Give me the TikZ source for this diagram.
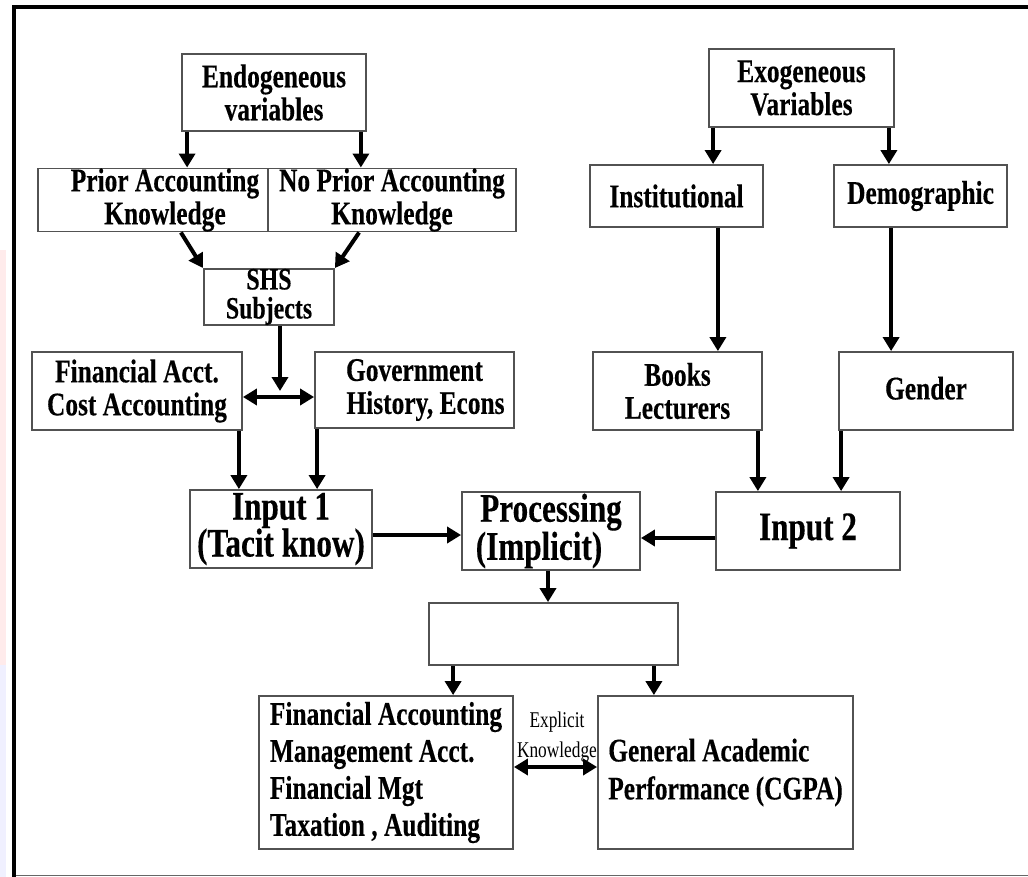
\documentclass[tikz,border=0pt]{standalone}
\usepackage{fontspec}
\setmainfont[FakeStretch=0.77, BoldFeatures={FakeBold=0.3}]{Liberation Serif}
\usetikzlibrary{arrows.meta,calc}
\tikzset{
  box/.style={draw=black!68, line width=1.8pt, inner sep=0pt, align=center,
    font=\bfseries\fontsize{33}{33}\selectfont},
  bigtext/.style={font=\bfseries\fontsize{40.5}{37}\selectfont},
  arr/.style={line width=4pt, -{Triangle[length=14pt,width=16pt]}},
  dbl/.style={line width=4pt, {Triangle[length=14pt,width=16pt]}-{Triangle[length=14pt,width=16pt]}},
}
\begin{document}
\begin{tikzpicture}[x=1pt,y=-1pt]
\useasboundingbox (0,0) rectangle (1028,877);
% faint tint along the left edge
\fill[red!8] (0,250) rectangle (6,665);
\fill[blue!6] (0,665) rectangle (6,877);
% outer frame
\draw[line width=1pt, black!60] (13,875) -- (1028,875);
\draw[line width=4pt] (13.5,877) -- (13.5,7.5) -- (1028,7.5);

% endogeneous branch
\node[box, minimum width=184pt, minimum height=77pt] (endo) at (274,92.5) {Endogeneous\\variables};
\node[box, minimum width=230pt, minimum height=62pt] (prior) at (153,200) {\hspace*{24pt}Prior Accounting\\\hspace*{24pt}Knowledge};
\node[box, minimum width=248pt, minimum height=62pt] (noprior) at (392,200) {No Prior Accounting\\Knowledge};
\node[box, minimum width=130pt, minimum height=52pt, font=\bfseries\fontsize{31}{29}\selectfont] (shs) at (269,297) {SHS\\Subjects};
\node[box, minimum width=210pt, minimum height=78pt] (fin) at (137,391) {Financial Acct.\\Cost Accounting};
\node[box, minimum width=199pt, minimum height=76pt] (gov) at (414.5,390) {Government\\\hspace*{22pt}History, Econs};
\node[box, bigtext, minimum width=182pt, minimum height=78pt] (in1) at (281,529) {Input 1\\(Tacit know)};
\node[box, bigtext, minimum width=178pt, minimum height=78pt] (proc) at (551,531) {Processing\\(Implicit)\hspace*{24pt}};

% exogeneous branch
\node[box, minimum width=185pt, minimum height=78pt] (exo) at (801.5,88) {Exogeneous\\Variables};
\node[box, minimum width=173pt, minimum height=62pt] (inst) at (676.5,196) {Institutional};
\node[box, minimum width=173pt, minimum height=62pt] (demo) at (920.5,196) {\raisebox{3pt}{Demographic}};
\node[box, minimum width=169pt, minimum height=78pt] (books) at (677.5,391) {Books\\Lecturers};
\node[box, minimum width=174pt, minimum height=78pt] (gender) at (926,391) {\raisebox{6pt}{Gender}};
\node[box, bigtext, minimum width=184pt, minimum height=78pt] (in2) at (808,531) {Input 2};

% outcome
\node[box, minimum width=249pt, minimum height=62pt] (out) at (553.5,634) {};
\node[box, align=left, minimum width=254pt, minimum height=153pt,
      font=\bfseries\fontsize{33}{37}\selectfont] (facc) at (386,772.5)
      {Financial Accounting\\Management Acct.\\Financial Mgt\\Taxation , Auditing};
\node[box, align=left, minimum width=255pt, minimum height=153pt,
      font=\bfseries\fontsize{33}{38}\selectfont] (gap) at (725.5,772.5)
      {General Academic\\Performance (CGPA)};
\node[align=center, inner sep=0pt, font=\fontsize{22.5}{30}\selectfont] (expl) at (557,737) {Explicit\\Knowledge};

% connectors, endogeneous side
\draw[arr] ([xshift=6pt]endo.south west) -- ([xshift=6pt]endo.south west |- prior.north);
\draw[arr] ([xshift=-6pt]endo.south east) -- ([xshift=-6pt]endo.south east |- noprior.north);
\draw[arr] ([xshift=-88pt]prior.south east) -- (shs.north west);
\draw[arr] ([xshift=92pt]noprior.south west) -- (shs.north east);
\coordinate (jn) at ([xshift=11pt]shs.south |- fin.east);
\draw[arr] ([xshift=11pt]shs.south) -- (jn);
\draw[dbl] ([yshift=-6pt]fin.east) -- ([yshift=-6pt]fin.east -| gov.west);
\draw[arr] ([xshift=-4pt]fin.south east) -- ([xshift=-4pt]fin.south east |- in1.north);
\draw[arr] ([xshift=3pt]gov.south west) -- ([xshift=3pt]gov.south west |- in1.north);
\draw[arr] ([yshift=-6pt]in1.east) -- ([yshift=-6pt]in1.east -| proc.west);

% connectors, exogeneous side
\draw[arr] ([xshift=5pt]exo.south west) -- ([xshift=5pt]exo.south west |- inst.north);
\draw[arr] ([xshift=-6pt]exo.south east) -- ([xshift=-6pt]exo.south east |- demo.north);
\draw[arr] ([xshift=-46pt]inst.south east) -- ([xshift=-46pt]inst.south east |- books.north);
\draw[arr] ([xshift=58pt]demo.south west) -- ([xshift=58pt]demo.south west |- gender.north);
\draw[arr] ([xshift=-5pt]books.south east) -- ([xshift=-5pt]books.south east |- in2.north);
\draw[arr] ([xshift=3pt]gender.south west) -- ([xshift=3pt]gender.south west |- in2.north);
\draw[arr] ([yshift=-7pt]in2.west) -- ([yshift=-7pt]in2.west -| proc.east);

% connectors, outcome
\draw[arr] ([xshift=-3pt]proc.south) -- ([xshift=-3pt]proc.south |- out.north);
\draw[arr] ([xshift=25pt]out.south west) -- ([xshift=25pt]out.south west |- facc.north);
\draw[arr] ([xshift=-25pt]out.south east) -- ([xshift=-25pt]out.south east |- gap.north);
\draw[dbl] ([yshift=5.5pt]facc.east) -- ([yshift=5.5pt]facc.east -| gap.west);
\end{tikzpicture}
\end{document}
